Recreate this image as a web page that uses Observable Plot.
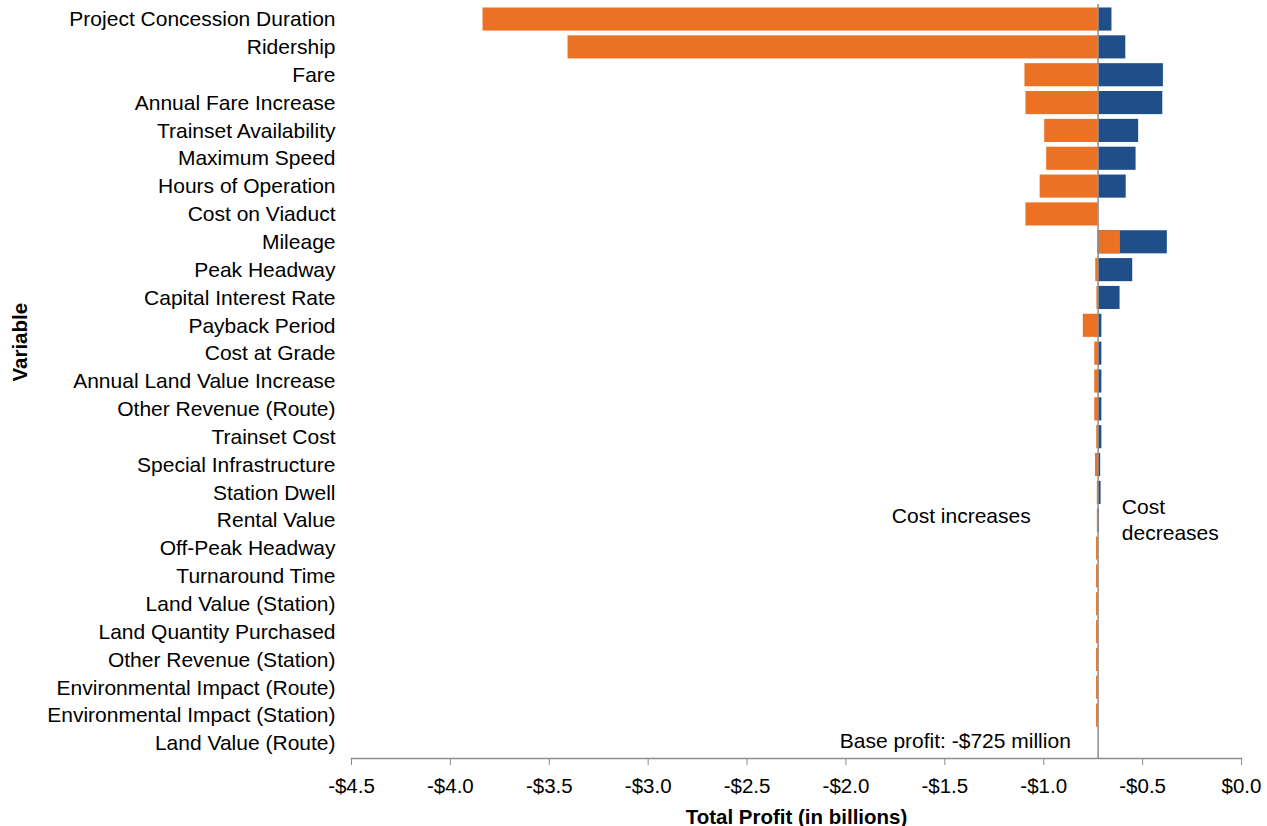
<!DOCTYPE html>
<html>
<head>
<meta charset="utf-8">
<script src="https://cdn.jsdelivr.net/npm/d3@7"></script>
<script src="https://cdn.jsdelivr.net/npm/@observablehq/plot@0.6"></script>
<style>
  html, body { margin: 0; padding: 0; background: #fff; }
  #chart svg { display: block; }
</style>
</head>
<body>
<div id="chart"></div>
<script>
const baseProfit = -0.725;

const variables = [
  "Project Concession Duration",
  "Ridership",
  "Fare",
  "Annual Fare Increase",
  "Trainset Availability",
  "Maximum Speed",
  "Hours of Operation",
  "Cost on Viaduct",
  "Mileage",
  "Peak Headway",
  "Capital Interest Rate",
  "Payback Period",
  "Cost at Grade",
  "Annual Land Value Increase",
  "Other Revenue (Route)",
  "Trainset Cost",
  "Special Infrastructure",
  "Station Dwell",
  "Rental Value",
  "Off-Peak Headway",
  "Turnaround Time",
  "Land Value (Station)",
  "Land Quantity Purchased",
  "Other Revenue (Station)",
  "Environmental Impact (Route)",
  "Environmental Impact (Station)",
  "Land Value (Route)"
];

// orange bars: profit when cost increases (billions)
const costIncreaseProfit = [
  -3.835, -3.405, -1.095, -1.090, -0.995, -0.985, -1.018, -1.090, -0.612,
  -0.737, -0.731, -0.800, -0.742, -0.742, -0.742, -0.732, -0.738, -0.729,
  -0.729, -0.733, -0.733, -0.733, -0.733, -0.733, -0.733, -0.733, -0.725
];

// blue bars: profit when cost decreases (billions)
const costDecreaseProfit = [
  -0.655, -0.585, -0.395, -0.398, -0.520, -0.533, -0.583, -0.725, -0.375,
  -0.550, -0.614, -0.706, -0.706, -0.706, -0.706, -0.706, -0.712, -0.710,
  -0.718, -0.725, -0.725, -0.725, -0.725, -0.725, -0.725, -0.725, -0.725
];

const xTicks = [-4.5, -4.0, -3.5, -3.0, -2.5, -2.0, -1.5, -1.0, -0.5, 0.0];

const orange = "#EB7224";
const blue = "#1F4E89";
const grey = "#8c8c8c";

const rows = variables.map((v, i) => ({
  variable: v,
  low: costIncreaseProfit[i],
  high: costDecreaseProfit[i]
}));

const fmt = d => (d < 0 ? "-" : "") + "$" + Math.abs(d).toFixed(1);

const chart = Plot.plot({
  width: 1267,
  height: 826,
  marginLeft: 351,
  marginRight: 26,
  marginTop: 4,
  marginBottom: 68,
  style: {
    fontFamily: "'Liberation Sans', Arial, Helvetica, sans-serif",
    fontSize: "21px",
    color: "#000",
    background: "#fff"
  },
  x: { domain: [-4.5, 0] },
  y: { domain: variables, paddingInner: 0.17, paddingOuter: 0.125, round: false },
  marks: [
    Plot.barX(rows, { y: "variable", x1: d => baseProfit, x2: "high", fill: blue }),
    Plot.barX(rows, { y: "variable", x1: d => baseProfit, x2: "low", fill: orange }),
    Plot.ruleX([baseProfit], { stroke: grey, strokeWidth: 1.5 }),
    Plot.frame({ anchor: "bottom", stroke: grey, strokeWidth: 1.5 }),
    Plot.axisX({
      ticks: xTicks,
      tickFormat: fmt,
      tickSize: 7,
      tickPadding: 13,
      stroke: grey,
      fontSize: 20.5,
      label: null
    }),
    Plot.axisY({
      tickSize: 0,
      tickPadding: 16,
      fontSize: 21,
      label: null
    }),
    Plot.text(["Total Profit (in billions)"], {
      frameAnchor: "bottom", dy: 65, fontWeight: "bold", fontSize: 20.5, fill: "#000"
    }),
    Plot.text(["Variable"], {
      frameAnchor: "left", rotate: -90, dx: -331, fontWeight: "bold", fontSize: 20.5, fill: "#000"
    }),
    Plot.text(["Cost increases"], {
      x: d => -1.417, y: d => "Rental Value", dy: -4, textAnchor: "middle", fontSize: 21, fill: "#000"
    }),
    Plot.text(["Cost\ndecreases"], {
      x: d => -0.605, y: d => "Rental Value", dy: -2, textAnchor: "start", lineHeight: 1.24, fontSize: 21, fill: "#000"
    }),
    Plot.text(["Base profit: -$725 million"], {
      x: d => -0.863, y: d => "Land Value (Route)", dy: -2, textAnchor: "end", fontSize: 21, fill: "#000"
    })
  ]
});

document.getElementById("chart").appendChild(chart);
</script>
</body>
</html>
